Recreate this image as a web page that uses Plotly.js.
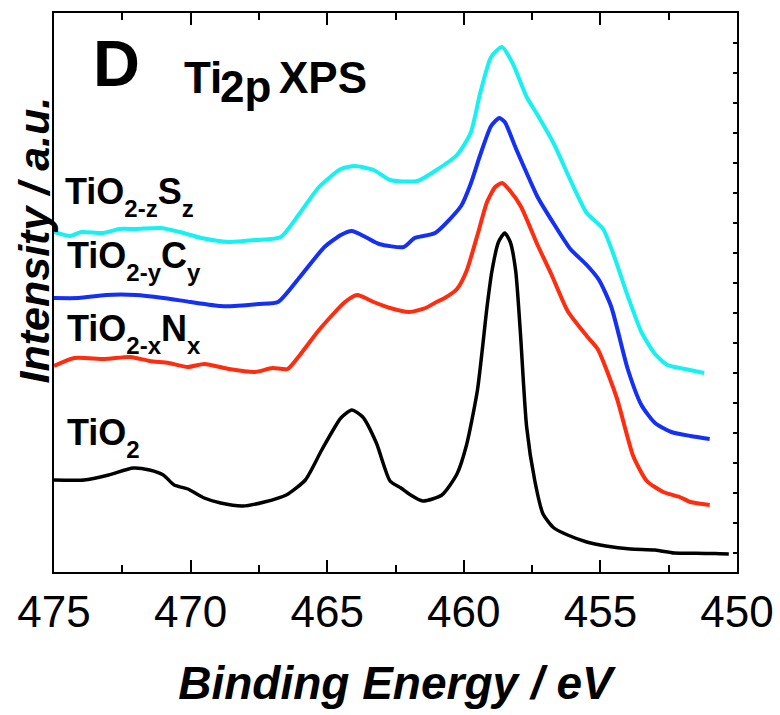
<!DOCTYPE html>
<html>
<head>
<meta charset="utf-8">
<script src="https://cdn.plot.ly/plotly-3.0.1.min.js"></script>
<style>html,body{margin:0;padding:0;background:#fff;}#chart{width:780px;height:715px;}</style>
</head>
<body>
<div id="chart"></div>
<script>
// Binding energy (eV) and intensity (arbitrary units, stacked offsets as plotted)
const tio2X = [475, 473.9, 473.0, 472.1, 471.5, 471.0, 470.6, 470.1, 469.5, 468.9, 468.1, 467.3, 466.5, 465.8, 465.2, 464.5, 464.1, 463.7, 463.2, 462.7, 462.3, 462.0, 461.5, 460.8, 460.25, 459.9, 459.5, 459.15, 458.97, 458.73, 458.5, 458.3, 458.1, 457.93, 457.7, 457.4, 457.1, 456.7, 456.2, 455.5, 454.8, 453.9, 453.0, 452.3, 451.5, 450.8, 450.3];
const tio2Y = [92, 92, 97, 104, 102, 97, 87, 83, 74, 69, 66, 70, 77, 92, 122, 154, 162, 155, 129, 91, 84, 78, 71, 77, 98, 127, 182, 265, 301, 330, 339, 330, 301, 240, 145, 91, 58, 44, 37, 30, 26, 23, 22, 19, 18.7, 18.5, 18];

const nX = [475, 474.25, 473.15, 472.2, 471.5, 470.8, 470.1, 469.5, 468.6, 467.65, 467.0, 466.45, 466.0, 465.3, 464.35, 463.9, 463.3, 462.7, 462.0, 461.4, 461.0, 460.7, 460.25, 459.9, 459.5, 459.15, 458.85, 458.6, 458.3, 457.9, 457.3, 456.8, 456.2, 455.5, 455.1, 454.4, 453.8, 453.3, 452.7, 452.1, 451.7, 451.0];
const nY = [206, 214, 213, 215, 211, 209, 205, 208, 203, 200, 204, 203, 217, 242, 270, 277, 270, 264, 260, 264, 270, 274, 283, 301, 337, 370, 385, 389, 381, 365, 327, 298, 261, 236, 223, 174, 116, 91, 80, 75, 70, 67];

const cX = [475, 474.1, 473.1, 472.0, 471.0, 470.0, 468.9, 468.4, 467.5, 466.8, 466.0, 465.1, 464.5, 464.1, 463.6, 463.1, 462.2, 461.8, 461.05, 460.1, 459.75, 459.4, 459.0, 458.7, 458.5, 458.1, 457.7, 457.3, 456.7, 456.1, 455.5, 455.05, 454.6, 454.0, 453.5, 453.0, 452.4, 451.7, 451.0];
const cY = [274, 274, 277, 277, 274, 270, 266, 266, 268, 270, 295, 325, 337, 341, 335, 328, 325, 334, 339, 366, 388, 417, 446, 454, 450, 424, 399, 375, 348, 323, 307, 292, 265, 203, 167, 149, 140, 136, 133];

const sX = [475, 474.4, 474.0, 473.2, 472.6, 472.0, 471.1, 470.4, 469.6, 468.6, 467.6, 466.7, 466.0, 465.3, 464.5, 464.0, 463.3, 462.7, 461.7, 461.0, 460.25, 459.75, 459.4, 459.0, 458.6, 458.2, 457.7, 457.3, 456.7, 456.1, 455.5, 454.9, 454.5, 454.0, 453.5, 453.0, 452.55, 451.9, 451.2];
const sY = [340, 336, 340, 339, 343, 343, 344, 340, 334, 330, 332, 335, 359, 385, 403, 406, 402, 392, 391, 402, 417, 439, 479, 515, 525, 508, 475, 457, 428, 392, 359, 343, 316, 276, 240, 218, 207, 203, 199];

const SUB = '<span style="font-size:24px;baseline-shift:-13px">';
const seriesNames = [
  'TiO' + SUB + '2</span>',
  'TiO' + SUB + '2-x</span>N' + SUB + 'x</span>',
  'TiO' + SUB + '2-y</span>C' + SUB + 'y</span>',
  'TiO' + SUB + '2-z</span>S' + SUB + 'z</span>'
];
const xTicks = [475, 470, 465, 460, 455, 450];

const SANS = 'Liberation Sans, Arial, sans-serif';

function tr(x, y, color, w, name) {
  return {x: x, y: y, type: 'scatter', mode: 'lines', name: name,
    line: {color: color, width: w, shape: 'spline', smoothing: 0.6}, hoverinfo: 'skip'};
}

const data = [
  tr(tio2X, tio2Y, '#000000', 3.5, seriesNames[0]),
  tr(nX, nY, '#FF2D0F', 4, seriesNames[1]),
  tr(cX, cY, '#1530F5', 4, seriesNames[2]),
  tr(sX, sY, '#17F1F1', 4, seriesNames[3])
];

function lab(text, x, y, size, anchor, extra) {
  return Object.assign({text: text, xref: 'paper', yref: 'paper', x: x, y: y, xanchor: anchor || 'left', yanchor: 'middle',
    showarrow: false, font: {family: SANS, size: size, color: '#000', weight: 'bold'}}, extra || {});
}

const layout = {
  width: 780, height: 715,
  margin: {l: 54, r: 43, t: 13, b: 143},
  paper_bgcolor: '#fff', plot_bgcolor: '#fff',
  showlegend: false,
  xaxis: {
    range: [475, 450], tickvals: xTicks, ticktext: xTicks.map(String),
    ticks: 'inside', ticklen: 12, tickwidth: 2, tickcolor: '#000',
    minor: {dtick: 2.5, tick0: 450, ticks: 'inside', ticklen: 7, tickwidth: 2, tickcolor: '#000'},
    showline: true, linewidth: 2, linecolor: '#000', mirror: 'ticks',
    showgrid: false, zeroline: false,
    tickfont: {family: SANS, size: 44, color: '#000'},
    title: {text: 'Binding Energy / eV', standoff: 32,
      font: {family: SANS, size: 46, color: '#000', weight: 'bold', style: 'italic'}}
  },
  yaxis: {
    range: [0, 559], side: 'right',
    showline: true, linewidth: 2, linecolor: '#000', mirror: true,
    ticks: 'inside', ticklen: 4, tickwidth: 1.5, tickcolor: '#000', tick0: 19, dtick: 30,
    showticklabels: false, showgrid: false, zeroline: false
  },
  annotations: [
    lab('Intensity / a.u.', -0.030, 0.594, 44, 'center', {textangle: -90,
      font: {family: SANS, size: 43, color: '#000', weight: 'bold', style: 'italic'}}),
    lab('D', 0.0916, 0.9097, 65, 'center'),
    lab('Ti', 0.1868, 0.885, 44),
    lab('2p', 0.2396, 0.868, 44),
    lab('XPS', 0.326, 0.885, 44),
    lab(seriesNames[3], 0.0125, 0.672, 36),
    lab(seriesNames[2], 0.0154, 0.557, 36),
    lab(seriesNames[1], 0.0154, 0.427, 36),
    lab(seriesNames[0], 0.0154, 0.241, 36)
  ]
};

Plotly.newPlot('chart', data, layout, {staticPlot: true, displayModeBar: false});
</script>
</body>
</html>
